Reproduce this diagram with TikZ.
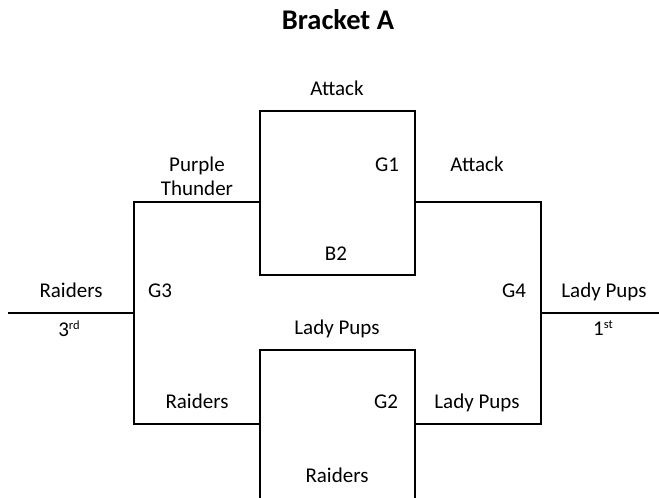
\documentclass[tikz,border=0pt]{standalone}
\usepackage{fontspec}
\setmainfont{Carlito}
\newcommand{\supsm}[1]{\raisebox{7pt}{\fontsize{12.5}{13}\selectfont #1}}
\begin{document}
\begin{tikzpicture}[x=1pt,y=-1pt,line width=2pt,
  lbl/.style={anchor=base,inner sep=0pt,font=\fontsize{21}{25}\selectfont},
  ttl/.style={anchor=base,inner sep=0pt,font=\fontsize{28.5}{32}\selectfont\bfseries},
  gamebox/.style={draw,line width=2pt,inner sep=0pt,minimum width=155pt}]
\useasboundingbox (0,0) rectangle (659,498);
\clip (0,0) rectangle (659,498);
% boxes
\node[gamebox,minimum height=164pt] (g1) at (337.5,193) {};
\node[gamebox,minimum height=180pt] (g2) at (337.5,440) {};
% corner coordinates
\coordinate (a) at (134,202);
\coordinate (b) at (134,424);
\coordinate (c) at (541,202);
\coordinate (d) at (541,424);
\coordinate (g3) at (134,313);
\coordinate (g4) at (541,313);
\coordinate (e) at (8,313);
\coordinate (f) at (659,313);
% connectors
\draw (g1.west |- a) -- (a) -- (b) -- (g2.west |- b);
\draw (g1.east |- c) -- (c) -- (d) -- (g2.east |- d);
\draw (e) -- (g3);
\draw (g4) -- (f);
% labels
\node[ttl] (title) at (338,29) {Bracket A};
\node[lbl] (t1) at (337,95) {Attack};
\node[lbl] (t2) at (197,171) {Purple};
\node[lbl] (t3) at (197,195) {Thunder};
\node[lbl] (t4) at (387,171) {G1};
\node[lbl] (t5) at (477,171) {Attack};
\node[lbl] (t6) at (336,260) {B2};
\node[lbl] (t7) at (71,297) {Raiders};
\node[lbl] (t8) at (160,297) {G3};
\node[lbl] (t9) at (69,336) {3\supsm{rd}};
\node[lbl] (t10) at (514,297) {G4};
\node[lbl] (t11) at (604,297) {Lady Pups};
\node[lbl] (t12) at (603,335) {1\supsm{st}};
\node[lbl] (t13) at (337,334) {Lady Pups};
\node[lbl] (t14) at (197,408) {Raiders};
\node[lbl] (t15) at (386,408) {G2};
\node[lbl] (t16) at (477,408) {Lady Pups};
\node[lbl] (t17) at (337,482) {Raiders};
\end{tikzpicture}
\end{document}
